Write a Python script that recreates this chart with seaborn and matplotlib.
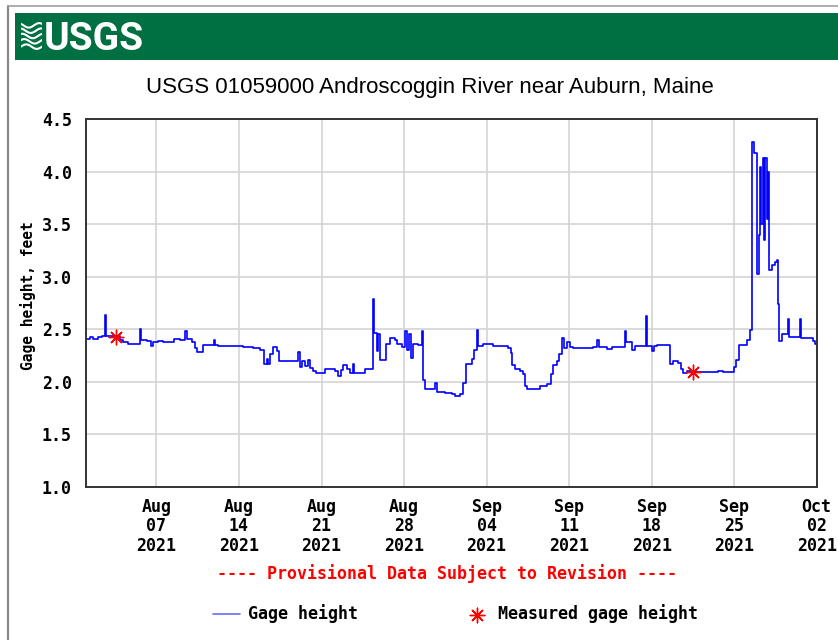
import matplotlib
matplotlib.use("Agg")
import matplotlib.pyplot as plt
import matplotlib.dates as mdates
from matplotlib.patches import Rectangle
from matplotlib.lines import Line2D
import seaborn as sns
import pandas as pd
import numpy as np

# gage record: days after 2021-08-01 00:00 and height in feet
start = pd.Timestamp("2021-08-01")
gage_days = [0.0, 0.36, 0.65, 1.07, 1.36, 1.64, 1.72, 2.9, 3.19, 3.62, 4.62, 4.7, 5.17, 5.54,
             5.74, 6.16, 6.58, 7.52, 8.0, 8.45, 8.57, 8.99, 9.27, 9.41, 9.92, 10.88, 10.95,
             11.25, 13.37, 14.22, 14.78, 15.15, 15.35, 15.45, 15.63, 15.86, 16.25, 16.4,
             17.9, 18.03, 18.18, 18.35, 18.6, 18.88, 19.0, 19.3, 19.53, 20.3, 21.15, 21.43,
             21.65, 21.85, 22.14, 22.42, 22.65, 22.75, 22.99, 23.69, 24.39, 24.47, 24.54,
             24.68, 24.82, 24.96, 25.3, 25.47, 25.81, 26.23, 26.43, 26.8, 27.08, 27.23,
             27.45, 27.59, 27.79, 28.21, 28.5, 28.63, 28.8, 29.6, 29.77, 30.47, 31.04,
             31.32, 31.75, 32.03, 32.26, 32.74, 32.93, 33.16, 33.3, 33.72, 34.57, 35.84,
             36.05, 36.16, 36.41, 36.84, 37.12, 37.29, 37.46, 38.53, 39.1, 39.44, 39.61,
             39.95, 40.17, 40.4, 40.57, 40.8, 41.08, 41.36, 43.05, 43.39, 43.5, 44.19,
             44.61, 45.74, 45.84, 45.94, 46.31, 46.59, 47.52, 47.62, 47.72, 48.0, 48.2,
             48.43, 49.56, 49.84, 50.26, 50.47, 50.64, 50.98, 51.68, 53.66, 54.08, 54.99,
             55.16, 55.39, 56.12, 56.35, 56.49, 56.68, 56.96, 57.08, 57.19, 57.3, 57.42,
             57.53, 57.64, 57.76, 57.87, 57.98, 58.18, 58.46, 58.66, 58.74, 58.83, 59.03,
             59.54, 59.65, 60.58, 60.69, 61.71, 61.86, 62.0]
gage_ft = [2.41, 2.43, 2.41, 2.43, 2.44, 2.64, 2.44, 2.40, 2.38, 2.36, 2.50, 2.40, 2.39, 2.34,
           2.38, 2.39, 2.38, 2.41, 2.40, 2.48, 2.41, 2.38, 2.32, 2.28, 2.35, 2.40, 2.35,
           2.34, 2.33, 2.32, 2.30, 2.17, 2.22, 2.17, 2.26, 2.33, 2.29, 2.20,
           2.20, 2.28, 2.14, 2.20, 2.15, 2.21, 2.13, 2.10, 2.08, 2.12, 2.10, 2.05,
           2.11, 2.16, 2.12, 2.08, 2.17, 2.08, 2.08, 2.12, 2.79, 2.46, 2.46,
           2.29, 2.45, 2.21, 2.21, 2.36, 2.42, 2.40, 2.36, 2.33, 2.48, 2.30,
           2.45, 2.23, 2.36, 2.35, 2.48, 2.02, 1.93, 1.99, 1.90, 1.89, 1.88,
           1.86, 1.88, 1.99, 2.17, 2.22, 2.30, 2.49, 2.34, 2.36, 2.34, 2.32,
           2.27, 2.16, 2.12, 2.10, 2.07, 1.96, 1.93, 1.96, 1.98, 2.07, 2.16,
           2.20, 2.26, 2.42, 2.32, 2.38, 2.33, 2.32, 2.33, 2.40, 2.33, 2.31,
           2.33, 2.48, 2.38, 2.38, 2.30, 2.34, 2.63, 2.34, 2.34, 2.29, 2.34,
           2.35, 2.17, 2.20, 2.18, 2.12, 2.08, 2.10, 2.09, 2.10, 2.09, 2.14,
           2.21, 2.35, 2.40, 2.49, 4.28, 4.18, 3.03, 3.40, 4.05, 3.50, 4.13,
           3.35, 4.13, 3.55, 4.00, 3.06, 3.11, 3.14, 3.16, 2.74, 2.39, 2.45,
           2.60, 2.43, 2.60, 2.42, 2.39, 2.36, 2.36]

# field measurements
meas_days = [2.54, 51.5]
meas_ft = [2.43, 2.09]

gage = pd.DataFrame({"time": start + pd.to_timedelta(gage_days, unit="D"), "height": gage_ft})
meas = pd.DataFrame({"time": start + pd.to_timedelta(meas_days, unit="D"), "height": meas_ft})

tick_dates = pd.date_range("2021-08-07", "2021-10-02", freq="7D")
y_ticks = [1.0, 1.5, 2.0, 2.5, 3.0, 3.5, 4.0, 4.5]

sns.set_style("white")
plt.rcParams["font.family"] = ["DejaVu Sans Mono"]
plt.rcParams["text.color"] = "black"
plt.rcParams["axes.labelcolor"] = "black"
plt.rcParams["xtick.color"] = "black"
plt.rcParams["ytick.color"] = "black"

W, H = 838, 640
fig = plt.figure(figsize=(W / 100, H / 100), dpi=100)

# page frame and USGS banner
fig.add_artist(Line2D([8 / W, 8 / W], [0, 1 - 6 / H], transform=fig.transFigure, color="#8a8a8a", lw=1.6))
fig.add_artist(Line2D([8 / W, 1], [1 - 6 / H, 1 - 6 / H], transform=fig.transFigure, color="#a0a0a0", lw=1.2))
fig.add_artist(Rectangle((15 / W, 1 - 60 / H), 1 - 15 / W, 47 / H, transform=fig.transFigure,
                         facecolor="#006f41", edgecolor="none", zorder=0))
fig.text(44 / W, 1 - 50 / H, "USGS", color="white", fontsize=28, fontweight="bold",
         family=["Roboto", "Liberation Sans"], va="baseline", ha="left", zorder=6)
logo = fig.add_axes([21 / W, 1 - 50 / H, 21 / W, 28 / H])
logo.set_zorder(5)
tt = np.linspace(0, 1, 40)
for k in range(5):
    logo.plot(tt, 0.12 + k * 0.19 + 0.08 * np.sin(tt * 2 * np.pi + k * 0.6), color="white", lw=1.5)
logo.set_xlim(0, 1)
logo.set_ylim(0, 1)
logo.axis("off")

fig.text(430 / W, 1 - 87 / H, "USGS 01059000 Androscoggin River near Auburn, Maine",
         ha="center", va="center", fontsize=16, family=["Liberation Sans"])

ax = fig.add_axes([85.7 / W, 1 - 486.7 / H, 731 / W, 367.4 / H])
sns.lineplot(data=gage, x="time", y="height", ax=ax, color="#0000ff", lw=1.2,
             drawstyle="steps-post", estimator=None, label="Gage height")
sns.scatterplot(data=meas, x="time", y="height", ax=ax, color="red", marker=(8, 2, 0),
                s=110, linewidth=1.0, label="Measured gage height", zorder=5)

ax.set_xlim(start, pd.Timestamp("2021-10-02"))
ax.set_ylim(1.0, 4.5)
ax.set_yticks(y_ticks)
ax.set_yticklabels([f"{v:.1f}" for v in y_ticks])
ax.set_xticks(tick_dates)
ax.xaxis.set_major_formatter(mdates.DateFormatter("%b\n%d\n%Y"))
ax.grid(True, color="#d4d4d4", lw=1.2)
ax.tick_params(length=0, labelsize=12, pad=10)
ax.tick_params(axis="x", pad=8)
for lab in ax.get_xticklabels() + ax.get_yticklabels():
    lab.set_fontweight("bold")
for lab in ax.get_xticklabels():
    lab.set_linespacing(1.12)
for sp in ax.spines.values():
    sp.set_color("#333333")
    sp.set_linewidth(1.4)
ax.set_xlabel("")
ax.set_ylabel("Gage height, feet", fontsize=10.5, fontweight="bold")
ax.yaxis.set_label_coords(-0.068, 0.52)

handles, labels = ax.get_legend_handles_labels()
ax.get_legend().remove()
handles[0] = Line2D([], [], color="#6a6aff", lw=1.2)
fig.legend(handles, labels, loc="center", bbox_to_anchor=(0.544, 1 - 614 / H), ncol=2,
           frameon=False, prop={"size": 12, "weight": "bold"}, handlelength=1.6,
           columnspacing=6.3, handletextpad=0.5)

fig.text(447 / W, 1 - 574 / H, "---- Provisional Data Subject to Revision ----", color="red",
         ha="center", va="center", fontsize=12, fontweight="bold")

fig.savefig("out.png", dpi=100)
